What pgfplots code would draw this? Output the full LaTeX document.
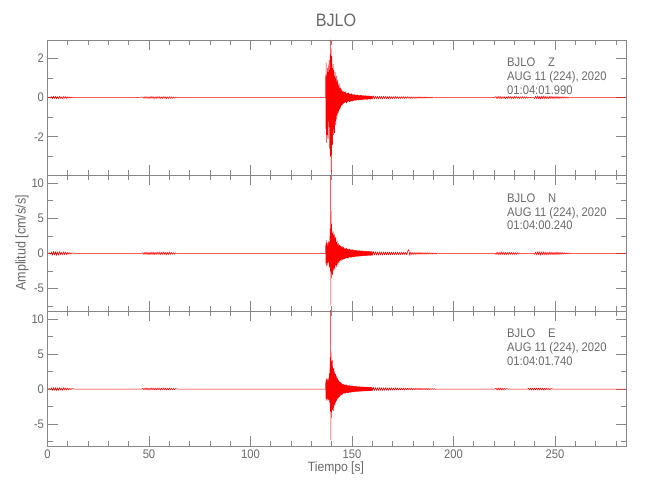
\documentclass[border=0pt]{standalone}
\usepackage{pgfplots}
\pgfplotsset{compat=1.18}
\usepackage{fontspec}
\setmainfont{Liberation Sans}[FakeStretch=0.9]
\definecolor{fg}{RGB}{105,105,105}
\definecolor{ax}{RGB}{135,135,135}
\definecolor{tr}{RGB}{255,0,0}
\pgfplotsset{
  panel/.style={
    scale only axis, width=578.5bp, height=135.5bp, anchor=south west,
    xmin=0, xmax=285, xtick={0,50,...,250}, minor xtick={10,20,...,280},
    tick align=inside, major tick length=10bp, minor tick length=5bp,
    axis line style={ax, line width=0.6pt},
    tick style={ax, line width=0.6pt},
    tick label style={font=\fontsize{12.5}{14}\selectfont, text=fg},
    /pgf/number format/assume math mode=true,
    xtick pos=both, ytick pos=both,
  },
  trace/.style={tr, line width=0.55pt, line join=round, mark=none},
}
\begin{document}
\begin{tikzpicture}
\path (0bp,0bp) rectangle (650bp,500bp);
% ---------- Z ----------
\begin{axis}[panel, at={(47.5bp,324.5bp)}, ymin=-3.98, ymax=2.94,
  ytick={-2,0,2}, minor ytick={-3,-1,1}, xticklabels={}]
\addplot[trace] coordinates {
(0,0) (1,0.02) (1.5,-0.02) (2,0.05) (2.5,-0.06) (3,0.07) (3.5,-0.05) (4,0.06) (4.5,-0.07) (5,0.05) (5.5,-0.06) (6,0.07) (6.5,-0.05) (7,0.04) (7.5,-0.05) (8,0.06) (8.5,-0.04) (9,0.05) (9.5,-0.05) (10,0.04) (10.5,-0.03) (11,0.03) (11.5,-0.02) (12,0.02) (13,0) (44,0)
(47,0.03) (47.5,-0.04) (48,0.05) (48.5,-0.04) (49,0.05) (49.5,-0.05) (50,0.04) (50.5,-0.05) (51,0.06) (51.5,-0.04) (52,0.05) (52.5,-0.06) (53,0.04) (53.5,-0.05) (54,0.05) (54.5,-0.04) (55,0.06) (55.5,-0.05) (56,0.04) (56.5,-0.05) (57,0.05) (57.5,-0.04) (58,0.05) (58.5,-0.06) (59,0.04) (59.5,-0.05) (60,0.05) (60.5,-0.04) (61,0.04) (61.5,-0.04) (62,0.03) (62.5,-0.03) (63,0.02) (64,0) (136.9,0)
(137.0,0.0) (137.1,1.2) (137.2,-1.6) (137.3,1.77) (137.4,-2.3) (137.5,1.1) (137.6,-1.4) (137.7,0.8) (137.8,-1.9) (137.9,1.5)
(138.0,-1.0) (138.1,1.3) (138.2,-2.1) (138.3,0.9) (138.4,-1.2) (138.5,1.6) (138.6,-0.8) (138.7,1.9) (138.8,-1.5) (138.9,1.0)
(139.0,-2.6) (139.1,1.4) (139.2,-1.1) (139.3,2.2) (139.4,-3.0) (139.5,2.94) (139.6,-2.2) (139.7,2.5) (139.8,-3.8) (139.9,1.8)
(140.0,-2.9) (140.1,2.1) (140.2,-1.7) (140.3,1.5) (140.4,-2.4) (140.5,1.2) (140.6,-1.3) (140.7,1.7) (140.8,-1.9) (140.9,0.9)
(141.0,-1.6) (141.1,1.4) (141.2,-1.0) (141.3,1.1) (141.4,-1.8) (141.5,0.8) (141.6,-1.2) (141.7,1.3) (141.8,-0.9) (141.9,1.0)
(142.0,-1.4) (142.1,0.7) (142.2,-0.9) (142.3,1.1) (142.4,-0.7) (142.5,0.8) (142.6,-1.1) (142.7,0.6) (142.8,-0.8) (142.9,0.9)
(143.0,-0.6) (143.1,0.7) (143.2,-0.8) (143.3,0.5) (143.4,-0.7) (143.5,0.6) (143.6,-0.5) (143.7,0.7) (143.8,-0.6) (143.9,0.4)
(144.0,-0.6) (144.1,0.5) (144.2,-0.4) (144.3,0.5) (144.4,-0.5) (144.5,0.4) (144.6,-0.3) (144.7,0.45) (144.8,-0.4) (144.9,0.3)
(145.0,-0.4) (145.1,0.35) (145.2,-0.3) (145.3,0.3) (145.4,-0.35) (145.5,0.25) (145.6,-0.3) (145.7,0.3) (145.8,-0.25) (145.9,0.3)
(146.0,-0.3) (146.2,0.28) (146.4,-0.25) (146.6,0.3) (146.8,-0.22) (147.0,0.25) (147.2,-0.28) (147.4,0.2) (147.6,-0.25) (147.8,0.22)
(148.0,-0.2) (148.2,0.25) (148.4,-0.18) (148.6,0.2) (148.8,-0.22) (149.0,0.17) (149.2,-0.2) (149.4,0.18) (149.6,-0.16) (149.8,0.2)
(150.0,-0.17) (150.2,0.15) (150.4,-0.18) (150.6,0.14) (150.8,-0.15) (151.0,0.16) (151.2,-0.13) (151.4,0.15) (151.6,-0.14) (151.8,0.12)
(152.0,-0.14) (152.2,0.13) (152.4,-0.12) (152.6,0.14) (152.8,-0.11) (153.0,0.12) (153.2,-0.13) (153.4,0.11) (153.6,-0.12) (153.8,0.1)
(154.0,-0.11) (154.2,0.12) (154.4,-0.1) (154.6,0.11) (154.8,-0.1) (155.0,0.09) (155.2,-0.11) (155.4,0.1) (155.6,-0.09) (155.8,0.1)
(156.0,-0.1) (156.2,0.09) (156.4,-0.08) (156.6,0.1) (156.8,-0.09) (157.0,0.08) (157.2,-0.09) (157.4,0.08) (157.6,-0.1) (157.8,0.08)
(158.0,-0.08) (158.2,0.09) (158.4,-0.07) (158.6,0.08) (158.8,-0.08) (159.0,0.07) (159.2,-0.08) (159.4,0.07) (159.6,-0.07) (159.8,0.08)
(160,-0.07) (160.5,0.08) (161,-0.06) (161.5,0.07) (162,-0.07) (162.5,0.06) (163,-0.07) (163.5,0.07) (164,-0.06) (164.5,0.06)
(165,-0.07) (165.5,0.06) (166,-0.05) (166.5,0.06) (167,-0.06) (167.5,0.05) (168,-0.06) (168.5,0.06) (169,-0.05) (169.5,0.05)
(170,-0.06) (170.5,0.05) (171,-0.05) (171.5,0.06) (172,-0.05) (172.5,0.05) (173,-0.05) (173.5,0.04) (174,-0.05) (174.5,0.05)
(175,-0.04) (175.5,0.05) (176,-0.05) (176.5,0.04) (177,-0.04) (177.5,0.05) (178,-0.04) (178.5,0.04) (179,-0.05) (179.5,0.04)
(180,-0.04) (180.5,0.04) (181,-0.04) (181.5,0.03) (182,-0.04) (182.5,0.04) (183,-0.03) (183.5,0.04) (184,-0.04) (184.5,0.03)
(185,-0.03) (185.5,0.03) (186,-0.03) (186.5,0.03) (187,-0.02) (187.5,0.03) (188,-0.02) (188.5,0.02) (189,-0.02) (189.5,0.02) (190,-0.02) (191,0) (220,0)
(221,0.05) (221.5,-0.06) (222,0.07) (222.5,-0.05) (223,0.06) (223.5,-0.07) (224,0.05) (224.5,-0.04) (225,0.05) (225.5,-0.06) (226,0.04) (226.5,-0.05) (227,0.06) (227.5,-0.04) (228,0.05) (228.5,-0.05) (229,0.04) (229.5,-0.05) (230,0.06) (230.5,-0.04) (231,0.05) (231.5,-0.04) (232,0.04) (232.5,-0.05) (233,0.04) (233.5,-0.04) (234,0.05) (234.5,-0.03) (235,0.04) (235.5,-0.04) (236,0.03) (236.5,-0.03) (237,0.02) (238,0) (239.5,0)
(240,-0.05) (240.5,0.07) (241,-0.06) (241.5,0.08) (242,-0.07) (242.5,0.06) (243,-0.08) (243.5,0.07) (244,-0.06) (244.5,0.08) (245,-0.07) (245.5,0.06) (246,-0.07) (246.5,0.05) (247,-0.06) (247.5,0.07) (248,-0.05) (248.5,0.06) (249,-0.06) (249.5,0.05) (250,-0.05) (250.5,0.06) (251,-0.04) (251.5,0.05) (252,-0.05) (252.5,0.04) (253,-0.04) (253.5,0.04) (254,-0.03) (254.5,0.04) (255,-0.03) (255.5,0.03) (256,-0.03) (256.5,0.02) (257,-0.02) (258,0) (285,0)
};
\end{axis}
% ---------- N ----------
\begin{axis}[panel, at={(47.5bp,189bp)}, ymin=-8.2, ymax=11.1,
  ytick={-5,0,5,10}, minor ytick={-7.5,-2.5,2.5,7.5}, xticklabels={}]
\addplot[trace] coordinates {
(0,0) (1,0.08) (1.5,-0.1) (2,0.2) (2.5,-0.25) (3,0.3) (3.5,-0.22) (4,0.26) (4.5,-0.3) (5,0.22) (5.5,-0.26) (6,0.28) (6.5,-0.2) (7,0.18) (7.5,-0.22) (8,0.25) (8.5,-0.18) (9,0.2) (9.5,-0.2) (10,0.16) (10.5,-0.14) (11,0.12) (11.5,-0.1) (12,0.08) (13,0) (46.5,0)
(47,0.12) (47.5,-0.15) (48,0.18) (48.5,-0.15) (49,0.2) (49.5,-0.18) (50,0.15) (50.5,-0.2) (51,0.22) (51.5,-0.16) (52,0.2) (52.5,-0.22) (53,0.16) (53.5,-0.18) (54,0.2) (54.5,-0.15) (55,0.22) (55.5,-0.2) (56,0.16) (56.5,-0.18) (57,0.2) (57.5,-0.15) (58,0.18) (58.5,-0.22) (59,0.16) (59.5,-0.18) (60,0.2) (60.5,-0.15) (61,0.15) (61.5,-0.14) (62,0.12) (62.5,-0.1) (63,0.08) (64,0) (136.9,0)
(137.0,0.0) (137.1,1.2) (137.2,-1.5) (137.3,1.9) (137.4,-1.8) (137.5,1.0) (137.6,-1.3) (137.7,1.5) (137.8,-0.9) (137.9,1.1)
(138.0,-1.6) (138.1,0.8) (138.2,-1.2) (138.3,1.4) (138.4,-1.0) (138.5,1.7) (138.6,-1.4) (138.7,1.2) (138.8,-2.0) (138.9,1.6)
(139.0,-1.1) (139.1,2.4) (139.2,-1.8) (139.3,3.5) (139.4,-2.5) (139.5,11.1) (139.6,-7.4) (139.7,6.0) (139.8,-3.5) (139.9,4.2)
(140.0,-2.8) (140.1,3.3) (140.2,-2.6) (140.3,2.9) (140.4,-3.0) (140.5,2.4) (140.6,-2.2) (140.7,3.1) (140.8,-1.8) (140.9,2.6)
(141.0,-2.4) (141.1,2.0) (141.2,-1.6) (141.3,2.7) (141.4,-2.1) (141.5,1.8) (141.6,-2.3) (141.7,2.2) (141.8,-1.5) (141.9,1.9)
(142.0,-1.7) (142.1,2.3) (142.2,-1.4) (142.3,1.6) (142.4,-1.9) (142.5,1.5) (142.6,-1.2) (142.7,1.8) (142.8,-1.3) (142.9,1.2)
(143.0,-1.6) (143.1,1.3) (143.2,-1.0) (143.3,1.4) (143.4,-1.2) (143.5,1.0) (143.6,-1.3) (143.7,1.1) (143.8,-0.9) (143.9,1.2)
(144.0,-1.0) (144.1,0.9) (144.2,-1.1) (144.3,1.0) (144.4,-0.8) (144.5,1.1) (144.6,-0.9) (144.7,0.8) (144.8,-1.0) (144.9,0.9)
(145.0,-0.8) (145.1,1.0) (145.2,-0.7) (145.3,0.8) (145.4,-0.9) (145.5,0.7) (145.6,-0.8) (145.7,0.9) (145.8,-0.7) (145.9,0.8)
(146.0,-0.8) (146.2,0.7) (146.4,-0.75) (146.6,0.65) (146.8,-0.7) (147.0,0.8) (147.2,-0.6) (147.4,0.7) (147.6,-0.65) (147.8,0.6)
(148.0,-0.7) (148.2,0.55) (148.4,-0.6) (148.6,0.65) (148.8,-0.5) (149.0,0.6) (149.2,-0.55) (149.4,0.5) (149.6,-0.6) (149.8,0.5)
(150.0,-0.5) (150.2,0.55) (150.4,-0.45) (150.6,0.5) (150.8,-0.5) (151.0,0.45) (151.2,-0.5) (151.4,0.4) (151.6,-0.45) (151.8,0.45)
(152.0,-0.4) (152.2,0.45) (152.4,-0.4) (152.6,0.4) (152.8,-0.42) (153.0,0.38) (153.2,-0.4) (153.4,0.36) (153.6,-0.38) (153.8,0.4)
(154.0,-0.35) (154.2,0.36) (154.4,-0.38) (154.6,0.34) (154.8,-0.35) (155.0,0.36) (155.2,-0.32) (155.4,0.34) (155.6,-0.33) (155.8,0.3)
(156.0,-0.34) (156.2,0.32) (156.4,-0.3) (156.6,0.32) (156.8,-0.3) (157.0,0.3) (157.2,-0.31) (157.4,0.28) (157.6,-0.3) (157.8,0.29)
(158.0,-0.28) (158.2,0.3) (158.4,-0.27) (158.6,0.28) (158.8,-0.28) (159.0,0.26) (159.2,-0.28) (159.4,0.27) (159.6,-0.26) (159.8,0.27)
(160,-0.26) (160.5,0.28) (161,-0.24) (161.5,0.26) (162,-0.25) (162.5,0.22) (163,-0.26) (163.5,0.24) (164,-0.22) (164.5,0.23)
(165,-0.24) (165.5,0.21) (166,-0.2) (166.5,0.22) (167,-0.21) (167.5,0.2) (168,-0.22) (168.5,0.2) (169,-0.19) (169.5,0.2)
(170,-0.2) (170.5,0.18) (171,-0.19) (171.5,0.2) (172,-0.18) (172.5,0.17) (173,-0.18) (173.5,0.16) (174,-0.18) (174.5,0.17)
(175,-0.16) (175.5,0.18) (176,-0.17) (176.5,0.16) (177,-0.2) (177.5,0.35) (178,0.55) (178.5,-0.3) (179,0.2) (179.5,-0.16)
(180,0.15) (180.5,-0.15) (181,0.14) (181.5,-0.15) (182,0.13) (182.5,-0.14) (183,0.14) (183.5,-0.12) (184,0.13) (184.5,-0.12)
(185,0.12) (185.5,-0.12) (186,0.11) (186.5,-0.11) (187,0.1) (187.5,-0.1) (188,0.1) (188.5,-0.09) (189,0.09) (189.5,-0.09) (190,0.08) (190.5,-0.08) (191,0.07) (191.5,-0.06) (192,0.05) (193,0) (220.5,0)
(221,-0.15) (221.5,0.2) (222,-0.22) (222.5,0.18) (223,-0.2) (223.5,0.22) (224,-0.16) (224.5,0.18) (225,-0.2) (225.5,0.16) (226,-0.18) (226.5,0.15) (227,-0.17) (227.5,0.18) (228,-0.14) (228.5,0.16) (229,-0.15) (229.5,0.13) (230,-0.14) (230.5,0.12) (231,-0.13) (231.5,0.1) (232,-0.1) (232.5,0.06) (233,0) (239.5,0)
(240,-0.15) (240.5,0.2) (241,-0.22) (241.5,0.25) (242,-0.2) (242.5,0.24) (243,-0.26) (243.5,0.22) (244,-0.2) (244.5,0.25) (245,-0.22) (245.5,0.2) (246,-0.23) (246.5,0.18) (247,-0.2) (247.5,0.22) (248,-0.18) (248.5,0.2) (249,-0.2) (249.5,0.16) (250,-0.18) (250.5,0.2) (251,-0.15) (251.5,0.17) (252,-0.16) (252.5,0.14) (253,-0.14) (253.5,0.13) (254,-0.12) (254.5,0.12) (255,-0.1) (255.5,0.1) (256,-0.08) (256.5,0.07) (257,-0.06) (258,0) (285,0)
};
\end{axis}
% ---------- E ----------
\begin{axis}[panel, at={(47.5bp,53.5bp)}, ymin=-8.25, ymax=11.2,
  ytick={-5,0,5,10}, minor ytick={-7.5,-2.5,2.5,7.5}]
\addplot[trace] coordinates {
(0,0) (1,0.06) (1.5,-0.08) (2,0.16) (2.5,-0.2) (3,0.22) (3.5,-0.18) (4,0.2) (4.5,-0.22) (5,0.18) (5.5,-0.2) (6,0.21) (6.5,-0.16) (7,0.15) (7.5,-0.18) (8,0.19) (8.5,-0.14) (9,0.16) (9.5,-0.15) (10,0.12) (10.5,-0.11) (11,0.09) (11.5,-0.08) (12,0.06) (13,0) (46.5,0)
(47,0.1) (47.5,-0.12) (48,0.14) (48.5,-0.12) (49,0.16) (49.5,-0.14) (50,0.12) (50.5,-0.15) (51,0.17) (51.5,-0.13) (52,0.15) (52.5,-0.17) (53,0.13) (53.5,-0.14) (54,0.15) (54.5,-0.12) (55,0.16) (55.5,-0.15) (56,0.12) (56.5,-0.14) (57,0.15) (57.5,-0.12) (58,0.14) (58.5,-0.16) (59,0.12) (59.5,-0.14) (60,0.15) (60.5,-0.12) (61,0.12) (61.5,-0.11) (62,0.09) (62.5,-0.08) (63,0.06) (64,0) (136.9,0)
(137.0,0.0) (137.1,1.0) (137.2,-1.4) (137.3,1.6) (137.4,-1.2) (137.5,1.3) (137.6,-1.7) (137.7,1.1) (137.8,-1.0) (137.9,1.4)
(138.0,-1.3) (138.1,1.0) (138.2,-1.5) (138.3,1.2) (138.4,-0.9) (138.5,1.5) (138.6,-1.6) (138.7,1.8) (138.8,-1.2) (138.9,2.2)
(139.0,-1.9) (139.1,2.8) (139.2,-2.4) (139.3,4.5) (139.4,-3.2) (139.5,11.3) (139.6,-7.3) (139.7,5.2) (139.8,-4.1) (139.9,4.0)
(140.0,-3.3) (140.1,3.6) (140.2,-2.9) (140.3,4.1) (140.4,-3.0) (140.5,3.2) (140.6,-2.7) (140.7,2.9) (140.8,-3.1) (140.9,2.4)
(141.0,-2.6) (141.1,3.0) (141.2,-2.2) (141.3,2.5) (141.4,-2.0) (141.5,2.2) (141.6,-2.4) (141.7,1.9) (141.8,-1.8) (141.9,2.1)
(142.0,-1.9) (142.1,1.7) (142.2,-1.6) (142.3,1.9) (142.4,-1.5) (142.5,1.6) (142.6,-1.7) (142.7,1.4) (142.8,-1.3) (142.9,1.5)
(143.0,-1.2) (143.1,1.3) (143.2,-1.4) (143.3,1.1) (143.4,-1.2) (143.5,1.2) (143.6,-1.0) (143.7,1.1) (143.8,-1.1) (143.9,0.9)
(144.0,-1.0) (144.1,1.0) (144.2,-0.9) (144.3,0.8) (144.4,-0.9) (144.5,0.9) (144.6,-0.8) (144.7,0.7) (144.8,-0.8) (144.9,0.8)
(145.0,-0.7) (145.1,0.7) (145.2,-0.75) (145.3,0.6) (145.4,-0.7) (145.5,0.65) (145.6,-0.6) (145.7,0.7) (145.8,-0.6) (145.9,0.6)
(146.0,-0.65) (146.2,0.6) (146.4,-0.6) (146.6,0.55) (146.8,-0.6) (147.0,0.62) (147.2,-0.5) (147.4,0.58) (147.6,-0.55) (147.8,0.5)
(148.0,-0.55) (148.2,0.48) (148.4,-0.5) (148.6,0.52) (148.8,-0.45) (149.0,0.5) (149.2,-0.46) (149.4,0.42) (149.6,-0.48) (149.8,0.44)
(150.0,-0.42) (150.2,0.45) (150.4,-0.4) (150.6,0.42) (150.8,-0.42) (151.0,0.38) (151.2,-0.4) (151.4,0.36) (151.6,-0.38) (151.8,0.38)
(152.0,-0.35) (152.2,0.38) (152.4,-0.34) (152.6,0.35) (152.8,-0.36) (153.0,0.33) (153.2,-0.34) (153.4,0.32) (153.6,-0.33) (153.8,0.34)
(154.0,-0.31) (154.2,0.32) (154.4,-0.32) (154.6,0.3) (154.8,-0.31) (155.0,0.31) (155.2,-0.29) (155.4,0.3) (155.6,-0.29) (155.8,0.27)
(156.0,-0.29) (156.2,0.28) (156.4,-0.26) (156.6,0.28) (156.8,-0.26) (157.0,0.26) (157.2,-0.27) (157.4,0.25) (157.6,-0.26) (157.8,0.25)
(158.0,-0.24) (158.2,0.26) (158.4,-0.24) (158.6,0.24) (158.8,-0.24) (159.0,0.23) (159.2,-0.24) (159.4,0.23) (159.6,-0.23) (159.8,0.23)
(160,-0.23) (160.5,0.24) (161,-0.21) (161.5,0.22) (162,-0.22) (162.5,0.2) (163,-0.22) (163.5,0.21) (164,-0.19) (164.5,0.2)
(165,-0.21) (165.5,0.18) (166,-0.18) (166.5,0.19) (167,-0.18) (167.5,0.17) (168,-0.19) (168.5,0.17) (169,-0.16) (169.5,0.17)
(170,-0.17) (170.5,0.15) (171,-0.16) (171.5,0.17) (172,-0.15) (172.5,0.14) (173,-0.15) (173.5,0.14) (174,-0.15) (174.5,0.14)
(175,-0.13) (175.5,0.15) (176,-0.14) (176.5,0.13) (177,-0.13) (177.5,0.14) (178,-0.12) (178.5,0.13) (179,-0.12) (179.5,0.12)
(180,-0.12) (180.5,0.11) (181,-0.12) (181.5,0.11) (182,-0.1) (182.5,0.11) (183,-0.1) (183.5,0.1) (184,-0.1) (184.5,0.09)
(185,-0.09) (185.5,0.09) (186,-0.09) (186.5,0.08) (187,-0.08) (187.5,0.08) (188,-0.07) (188.5,0.07) (189,-0.07) (189.5,0.06) (190,-0.06) (190.5,0.05) (191,-0.05) (192,0) (220.5,0)
(221,0.12) (221.5,-0.15) (222,0.17) (222.5,-0.14) (223,0.16) (223.5,-0.15) (224,0.12) (224.5,-0.13) (225,0.1) (225.5,-0.08) (226,0.06) (227,0) (236.5,0)
(237,0.1) (237.5,-0.13) (238,0.15) (238.5,-0.16) (239,0.14) (239.5,-0.17) (240,0.15) (240.5,-0.14) (241,0.16) (241.5,-0.15) (242,0.17) (242.5,-0.14) (243,0.15) (243.5,-0.16) (244,0.13) (244.5,-0.15) (245,0.14) (245.5,-0.12) (246,0.13) (246.5,-0.11) (247,0.1) (247.5,-0.09) (248,0.07) (249,0) (285,0)
};
\end{axis}
% ---------- texts ----------
\node[text=fg, font=\fontsize{18}{20}\selectfont] at (336bp,480bp) {BJLO};
\node[text=fg, font=\fontsize{14}{16}\selectfont, rotate=90] at (22bp,257bp) {Amplitud [cm/s/s]};
\node[text=fg, font=\fontsize{13.5}{15}\selectfont] at (336bp,32bp) {Tiempo [s]};
\node[text=fg, font=\fontsize{12.5}{13.7}\selectfont, anchor=north west, inner sep=0pt, align=left] at (507bp,442bp) {BJLO\hspace{13bp}Z\\AUG 11 (224), 2020\\01:04:01.990};
\node[text=fg, font=\fontsize{12.5}{13.7}\selectfont, anchor=north west, inner sep=0pt, align=left] at (507bp,306.5bp) {BJLO\hspace{13bp}N\\AUG 11 (224), 2020\\01:04:00.240};
\node[text=fg, font=\fontsize{12.5}{13.7}\selectfont, anchor=north west, inner sep=0pt, align=left] at (507bp,171bp) {BJLO\hspace{13bp}E\\AUG 11 (224), 2020\\01:04:01.740};
\end{tikzpicture}
\end{document}
